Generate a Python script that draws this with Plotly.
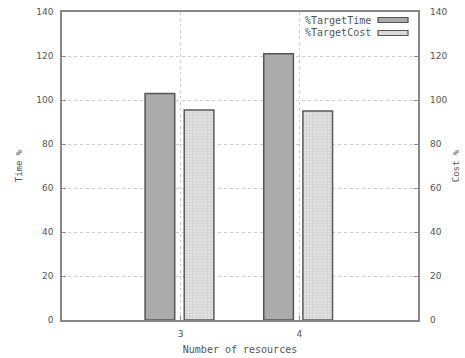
import plotly.graph_objects as go

categories = [3, 4]
target_time = [103, 121]
target_cost = [95.5, 95]
series_names = ["%TargetTime", "%TargetCost"]
y_ticks = [0, 20, 40, 60, 80, 100, 120, 140]

MONO = "DejaVu Sans Mono"
SANS = "DejaVu Sans"
TXT = "#555555"

fig = go.Figure()
fig.add_trace(go.Bar(
    x=categories, y=target_time, name=series_names[0],
    width=0.25, offset=-0.30,
    marker=dict(color="#ababab", line=dict(color="#555555", width=1.5)),
    showlegend=False, yaxis="y",
))
fig.add_trace(go.Bar(
    x=categories, y=target_cost, name=series_names[1],
    width=0.25, offset=0.03,
    marker=dict(color="#d9d9d9", line=dict(color="#5a5a5a", width=1.5),
                pattern=dict(shape=".", fgcolor="#b8b8b8", bgcolor="#e2e2e2", size=3, solidity=0.4)),
    showlegend=False, yaxis="y2",
))

grid = dict(showgrid=True, gridcolor="#cccccc", griddash="dot", gridwidth=1)
fig.update_layout(
    width=465, height=358,
    margin=dict(l=62, r=47, t=12, b=38),
    paper_bgcolor="white", plot_bgcolor="white",
    font=dict(family=SANS, size=9, color=TXT),
    barmode="overlay",
    xaxis=dict(range=[2, 5], tickvals=categories, ticktext=[str(c) for c in categories],
               ticks="inside", ticklen=4, tickcolor="#888888", automargin=False,
               showline=True, linecolor="#888888", linewidth=1.5, mirror=True, ticklabelstandoff=4,
               zeroline=False, title=dict(text="Number of resources", font=dict(family=MONO, size=10, color=TXT), standoff=8),
               **grid),
    yaxis=dict(range=[0, 140], tickvals=y_ticks, ticks="inside", ticklen=4, tickcolor="#888888",
               automargin=False, ticklabelstandoff=5,
               showline=True, linecolor="#888888", linewidth=1.5, mirror=True, zeroline=False,
               title=dict(text="Time %", font=dict(family=MONO, size=9, color=TXT), standoff=12),
               **grid),
    yaxis2=dict(range=[0, 140], tickvals=y_ticks, overlaying="y", side="right", ticks="inside",
                ticklen=4, tickcolor="#888888", showgrid=False, zeroline=False, showline=False,
                automargin=False, ticklabelstandoff=11,
                title=dict(text="Cost %", font=dict(family=MONO, size=9, color=TXT), standoff=6)),
)

# legend drawn in gnuplot style (text then swatch)
legend_rows = [(series_names[0], "#ababab"), (series_names[1], "#d9d9d9")]
ys = [20, 33]
for (name, col), ypx in zip(legend_rows, ys):
    yp = 1 - (ypx - 12) / (320 - 12)
    fig.add_annotation(xref="paper", yref="paper", x=(373 - 62) / (418 - 62), y=yp,
                       text=name, showarrow=False, xanchor="right", yanchor="middle",
                       font=dict(family=MONO, size=10, color=TXT))
    fig.add_shape(type="rect", xref="paper", yref="paper",
                  x0=(378 - 62) / (418 - 62), x1=(408 - 62) / (418 - 62),
                  y0=1 - (ypx + 2.5 - 12) / 308, y1=1 - (ypx - 2.5 - 12) / 308,
                  fillcolor=col, line=dict(color="#555555", width=1.2))

fig.write_html("out.html", config={"displayModeBar": False},
               post_script="document.body.style.margin='0';document.body.style.overflow='hidden';")
